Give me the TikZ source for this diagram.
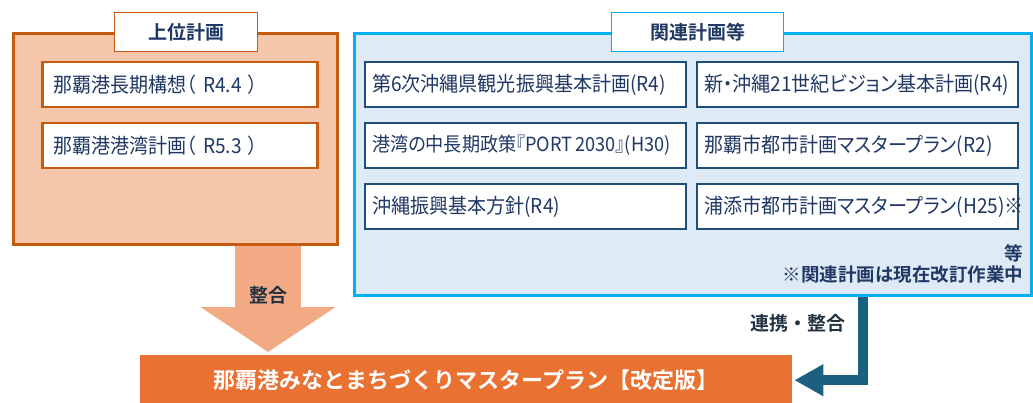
\documentclass[tikz,border=0pt]{standalone}
\usepackage{fontspec}
\setmainfont{Noto Sans CJK JP}[BoldFont={Noto Sans CJK JP Bold}]
\newfontfamily\palfont{Noto Sans CJK JP}[RawFeature=+palt, FakeStretch=0.93]
\usetikzlibrary{arrows.meta}

\definecolor{navy}{RGB}{32,56,100}
\definecolor{peach}{RGB}{246,198,170}
\definecolor{rust}{RGB}{197,90,17}
\definecolor{salmon}{RGB}{242,170,132}
\definecolor{paleblue}{RGB}{222,234,246}
\definecolor{skyline}{RGB}{0,176,240}
\definecolor{slate}{RGB}{31,78,121}
\definecolor{carrot}{RGB}{233,113,50}
\definecolor{linkblue}{RGB}{27,96,128}
\definecolor{ink}{RGB}{35,50,65}

\tikzset{
  frame/.style={draw, line width=3, anchor=north west},
  tab/.style={draw, fill=white, line width=1, anchor=north west,
    minimum width=143, minimum height=39, text=navy,
    font=\fontsize{19}{22}\selectfont\bfseries},
  plan/.style={draw, fill=white, anchor=north west, minimum height=45,
    align=left, text=navy, font=\palfont\fontsize{20.5}{24}\selectfont},
  upperplan/.style={plan, draw=rust, line width=2.5, inner xsep=11, text width=253},
  relplan/.style={plan, draw=slate, line width=2, inner xsep=7, text width=307},
  tag/.style={text=ink, font=\fontsize{19}{22}\selectfont\bfseries}
}

\begin{document}
\begin{tikzpicture}[x=1pt,y=-1pt]
  \useasboundingbox (0,0) rectangle (1033,403);

  % upper plans
  \node[frame, draw=rust, fill=peach, minimum width=324, minimum height=211]
    (upper) at (12,32) {};
  \node[tab, draw=rust] (uppertitle) at (114,12) {上位計画};
  \node[upperplan] (longterm) at (41,61) {那覇港長期構想（ R4.4 ）};
  \node[upperplan] (portplan) at (41,122) {那覇港港湾計画（ R5.3 ）};

  % related plans
  \node[frame, draw=skyline, fill=paleblue, minimum width=677, minimum height=262]
    (related) at (353,32) {};
  \node[tab, draw=skyline, minimum width=172] (reltitle) at (611,12) {関連計画等};
  \node[relplan] (tourism) at (364,61) {第6次沖縄県観光振興基本計画(R4)};
  \node[relplan] (vision) at (696,61) {新・沖縄21世紀ビジョン基本計画(R4)};
  \node[relplan, font=\palfont\fontsize{19.5}{24}\selectfont]
    (port2030) at (364,122) {港湾の中長期政策『PORT\kern3pt 2030』(H30)};
  \node[relplan] (nahacity) at (696,122) {那覇市都市計画マスタープラン(R2)};
  \node[relplan] (promo) at (364,183) {沖縄振興基本方針(R4)};
  \node[relplan] (urasoe) at (696,183) {浦添市都市計画マスタープラン(H25)※};
  \node[anchor=east, text=navy, font=\fontsize{18.5}{22}\selectfont\bfseries]
    (etc) at (1027,253) {等};
  \node[anchor=east, text=navy, font=\fontsize{18.5}{22}\selectfont\bfseries]
    (note) at (1027,275) {※関連計画は現在改訂作業中};

  % master plan
  \node[anchor=north west, fill=carrot, minimum width=652, minimum height=50,
    text=white, font=\fontsize{22}{26}\selectfont\bfseries]
    (master) at (140,355) {那覇港みなとまちづくりマスタープラン【改定版】};

  % arrows
  \coordinate (downx) at (268,0);
  \coordinate (linkx) at (863,0);
  \draw[salmon, line width=66, -{Triangle[length=45pt,width=133pt]}]
    (upper.south -| downx) -- ([yshift=3]master.north -| downx);
  \node[tag] (align) at (268,295) {整合};
  \draw[linkblue, line width=10, -{Triangle[length=29pt,width=30pt]}]
    (related.south -| linkx) |- ([xshift=2]master.east);
  \node[tag] (link) at (798,323) {連携・整合};
\end{tikzpicture}
\end{document}
